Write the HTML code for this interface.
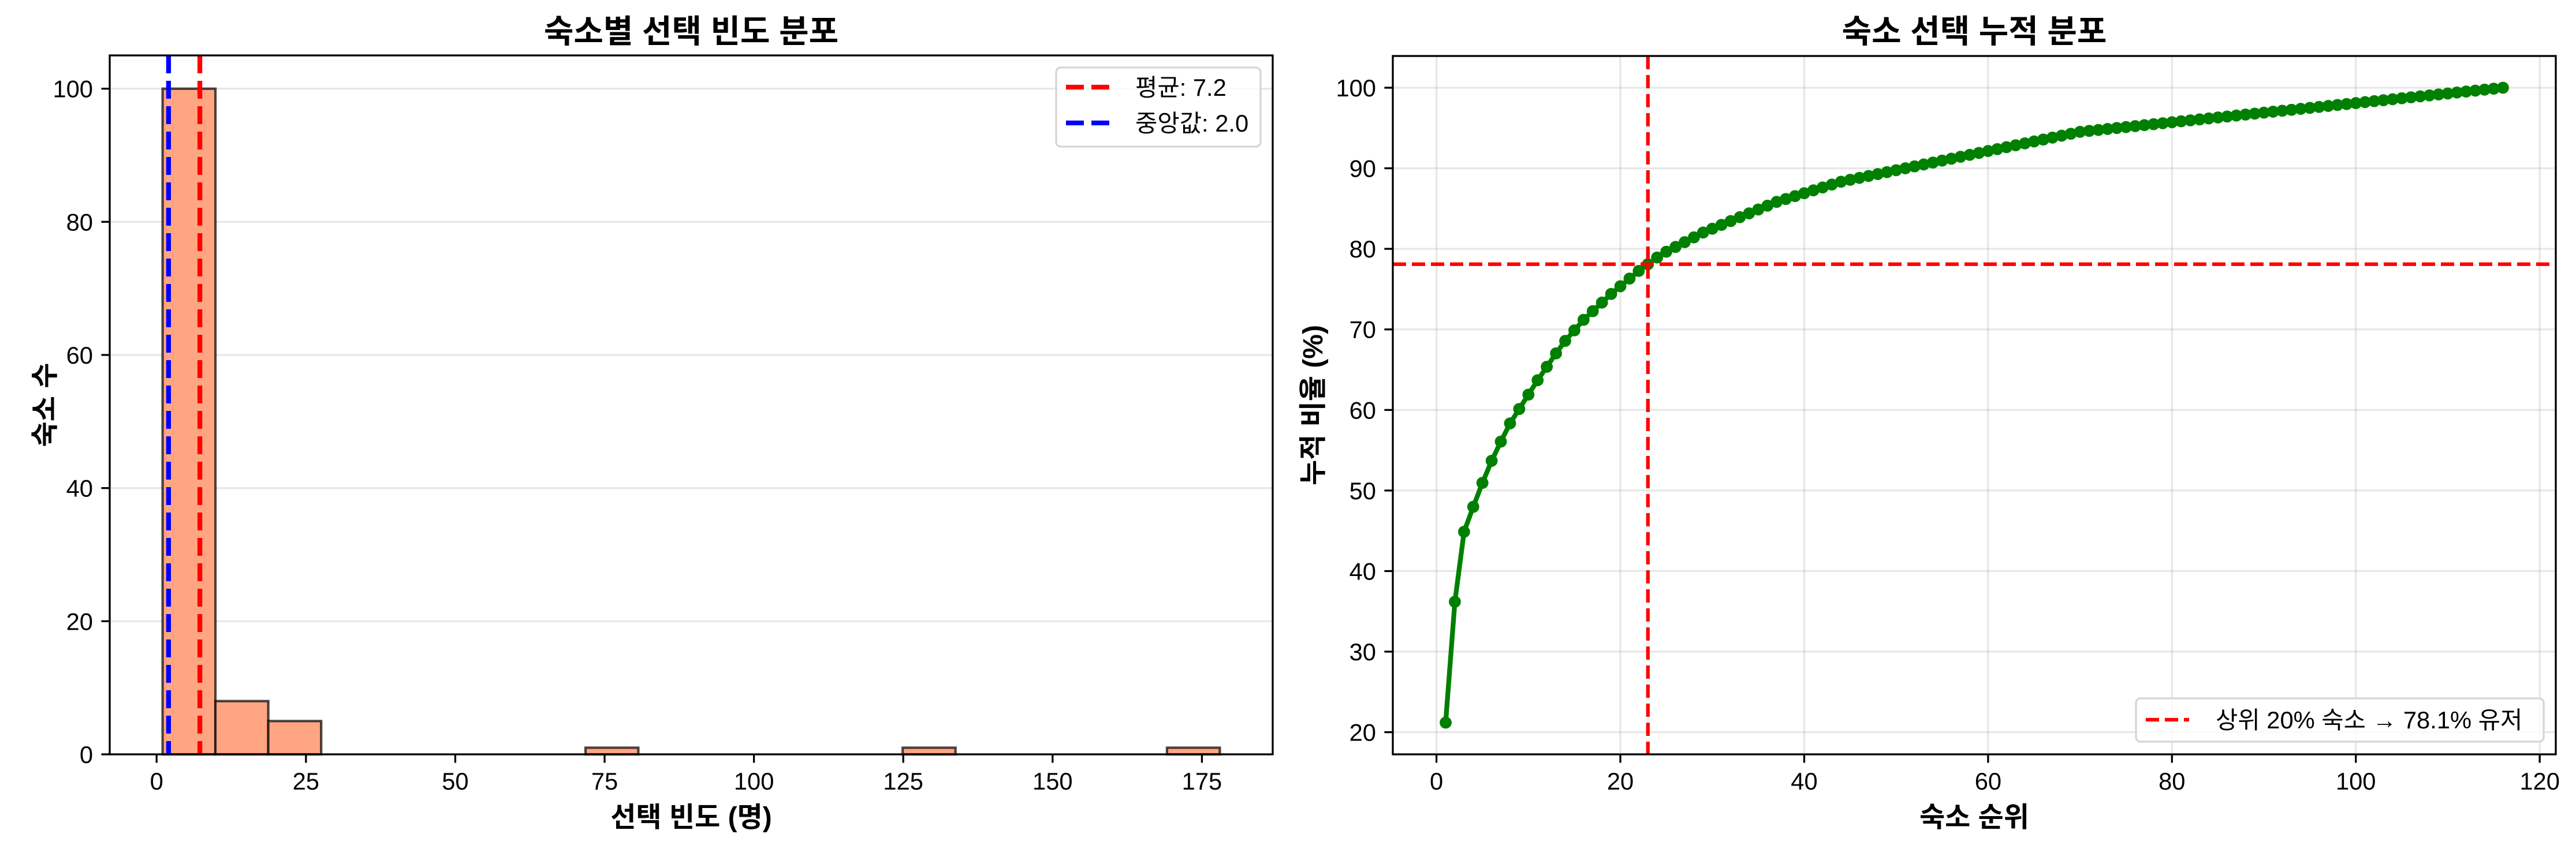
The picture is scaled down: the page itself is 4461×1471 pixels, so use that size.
<!DOCTYPE html>
<html><head><meta charset="utf-8">
<style>
html,body{margin:0;padding:0;background:#fff;}
svg{display:block;}
text{font-family:"Liberation Sans","Noto Sans CJK KR",sans-serif;fill:#000;}
</style></head>
<body>
<svg id="fig" xmlns="http://www.w3.org/2000/svg" width="4461" height="1471" viewBox="0 0 4461 1471">
<rect x="0" y="0" width="4461" height="1471" fill="#fff"/>
<g id="left"></g>
<g id="right"></g>
</svg>
<script>
// selections per accommodation, sorted descending (116 accommodations)
const counts = [178,126,73,26,25,23,20,19,15,15,15,14,14,13,11,11,
 9,9,9,8,8,8,7,7,6,
 5,5,5,5,4,4,4,4,4,4,4,4,3,3,3,
 3,3,3,3,2,2,2,2,2,2,
 2,2,2,2,2,2,2,2,2,2,
 2,2,2,2,2,2,2,2,2,2,
 1,1,1,1,1,1,1,1,1,1,1,1,1,1,1,1,1,1,1,1,1,1,1,1,1,1,1,1,1,1,1,1,1,1,1,1,1,1,1,1,1,1,1,1,1,1];
const histXTicks = [0,25,50,75,100,125,150,175];
const histYTicks = [0,20,40,60,80,100];
const cumXTicks = [0,20,40,60,80,100,120];
const cumYTicks = [20,30,40,50,60,70,80,90,100];
const nBins = 20;
const topShare = 0.2;

const NS = "http://www.w3.org/2000/svg";
function mk(tag, attrs, parent){const e=document.createElementNS(NS,tag);for(const k in attrs)e.setAttribute(k,attrs[k]);parent.appendChild(e);return e;}
function txt(s, attrs, parent){const e=mk('text',attrs,parent);e.textContent=s;return e;}

const total = counts.reduce((a,b)=>a+b,0);
const mean = total/counts.length;
const sortedAsc = counts.slice().sort((a,b)=>a-b);
const n = sortedAsc.length;
const median = n%2 ? sortedAsc[(n-1)/2] : (sortedAsc[n/2-1]+sortedAsc[n/2])/2;

/* ---------- LEFT: histogram ---------- */
const L = document.getElementById('left');
const lx0=190, lx1=2204, ly0=96, ly1=1307;
const cmin=Math.min(...counts), cmax=Math.max(...counts);
const bw=(cmax-cmin)/nBins;
const bins=new Array(nBins).fill(0);
counts.forEach(c=>{let i=Math.floor((c-cmin)/bw);if(i>=nBins)i=nBins-1;bins[i]++;});
const hxMin=cmin-0.05*(cmax-cmin), hxMax=cmax+0.05*(cmax-cmin);
const hyMax=Math.max(...bins)*1.05;
const hx=v=>lx0+(v-hxMin)/(hxMax-hxMin)*(lx1-lx0);
const hy=v=>ly1-(v/hyMax)*(ly1-ly0);

histYTicks.forEach(t=>{
  const g=mk('line',{x1:lx0,x2:lx1,y1:hy(t),y2:hy(t),stroke:'#b0b0b0','stroke-opacity':0.3,'stroke-width':3.3},L);
  
  
});
bins.forEach((b,i)=>{
  if(b<=0) return;
  const x=hx(cmin+i*bw), x2=hx(cmin+(i+1)*bw);
  const r=mk('rect',{x:x,y:hy(b),width:x2-x,height:hy(0)-hy(b),fill:'#FFA582',stroke:'#000','stroke-opacity':0.7,'stroke-width':4.2},L);
  
  
});
const meanLine=mk('line',{x1:hx(mean),x2:hx(mean),y1:ly0,y2:ly1,stroke:'#ff0000','stroke-width':8.3,'stroke-dasharray':'31,13'},L);


const medLine=mk('line',{x1:hx(median),x2:hx(median),y1:ly0,y2:ly1,stroke:'#0000ff','stroke-width':8.3,'stroke-dasharray':'31,13'},L);



const lframe=mk('rect',{x:lx0,y:ly0,width:lx1-lx0,height:ly1-ly0,fill:'none',stroke:'#000','stroke-width':3.3},L);


histXTicks.forEach(t=>{
  mk('line',{x1:hx(t),x2:hx(t),y1:ly1,y2:ly1+14.6,stroke:'#000','stroke-width':3.3},L);
  const e=txt(String(t),{x:hx(t),y:1368,'font-size':41.7,'text-anchor':'middle'},L);
  
  
});
histYTicks.forEach(t=>{
  mk('line',{x1:lx0-14.6,x2:lx0,y1:hy(t),y2:hy(t),stroke:'#000','stroke-width':3.3},L);
  const e=txt(String(t),{x:lx0-29,y:hy(t)+15,'font-size':41.7,'text-anchor':'end'},L);
  
  
});
let e;
e=txt('숙소별 선택 빈도 분포',{x:(lx0+lx1)/2,y:74,'font-size':56,'font-weight':'bold','text-anchor':'middle'},L);


e=txt('선택 빈도 (명)',{x:(lx0+lx1)/2,y:1432,'font-size':48,'font-weight':'bold','text-anchor':'middle'},L);


e=txt('숙소 수',{x:0,y:0,'font-size':48,'font-weight':'bold','text-anchor':'middle',transform:'translate(94,'+((ly0+ly1)/2)+') rotate(-90)'},L);



const lleg=mk('g',{},L);


mk('rect',{x:1829,y:117,width:354,height:137,rx:8,fill:'#fff','fill-opacity':0.8,stroke:'#d5d5d5','stroke-width':3.3},lleg);
mk('line',{x1:1846,x2:1921,y1:151,y2:151,stroke:'#ff0000','stroke-width':8.3,'stroke-dasharray':'31,13'},lleg);
mk('line',{x1:1846,x2:1921,y1:213,y2:213,stroke:'#0000ff','stroke-width':8.3,'stroke-dasharray':'31,13'},lleg);
e=txt('평균: '+mean.toFixed(1),{x:1966,y:166,'font-size':41.7},lleg);


e=txt('중앙값: '+median.toFixed(1),{x:1966,y:228,'font-size':41.7},lleg);



/* ---------- RIGHT: cumulative ---------- */
const R = document.getElementById('right');
const rx0=2412, rx1=4426, ry0=97, ry1=1307;
const cum=[]; let acc=0;
counts.forEach(c=>{acc+=c;cum.push(acc/total*100);});
const ranks=counts.map((_,i)=>i+1);
const cyMinD=Math.min(...cum), cyMaxD=Math.max(...cum);
const cxMin=1-0.05*(n-1), cxMax=n+0.05*(n-1);
const cyMin=cyMinD-0.05*(cyMaxD-cyMinD), cyMax=cyMaxD+0.05*(cyMaxD-cyMinD);
const cx=v=>rx0+(v-cxMin)/(cxMax-cxMin)*(rx1-rx0);
const cy=v=>ry1-(v-cyMin)/(cyMax-cyMin)*(ry1-ry0);

cumXTicks.forEach(t=>{
  const g=mk('line',{x1:cx(t),x2:cx(t),y1:ry0,y2:ry1,stroke:'#b0b0b0','stroke-opacity':0.3,'stroke-width':3.3},R);
  
  
});
cumYTicks.forEach(t=>{
  const g=mk('line',{x1:rx0,x2:rx1,y1:cy(t),y2:cy(t),stroke:'#b0b0b0','stroke-opacity':0.3,'stroke-width':3.3},R);
  
  
});
const pts=cum.map((v,i)=>cx(ranks[i]).toFixed(1)+','+cy(v).toFixed(1)).join(' ');
const pl=mk('polyline',{points:pts,fill:'none',stroke:'#008000','stroke-width':8.3,'stroke-linejoin':'round'},R);


cum.forEach((v,i)=>{
  const c=mk('circle',{cx:cx(ranks[i]),cy:cy(v),r:10.4,fill:'#008000'},R);
  
  
});
const topN=Math.floor(n*topShare);
const topPct=cum[topN-1];
const vl=mk('line',{x1:cx(topN),x2:cx(topN),y1:ry0,y2:ry1,stroke:'#ff0000','stroke-width':6.25,'stroke-dasharray':'23,10'},R);


const hl=mk('line',{x1:rx0,x2:rx1,y1:cy(topPct),y2:cy(topPct),stroke:'#ff0000','stroke-width':6.25,'stroke-dasharray':'23,10'},R);



const rframe=mk('rect',{x:rx0,y:ry0,width:rx1-rx0,height:ry1-ry0,fill:'none',stroke:'#000','stroke-width':3.3},R);


cumXTicks.forEach(t=>{
  mk('line',{x1:cx(t),x2:cx(t),y1:ry1,y2:ry1+14.6,stroke:'#000','stroke-width':3.3},R);
  const e=txt(String(t),{x:cx(t),y:1368,'font-size':41.7,'text-anchor':'middle'},R);
  
  
});
cumYTicks.forEach(t=>{
  mk('line',{x1:rx0-14.6,x2:rx0,y1:cy(t),y2:cy(t),stroke:'#000','stroke-width':3.3},R);
  const e=txt(String(t),{x:rx0-29,y:cy(t)+15,'font-size':41.7,'text-anchor':'end'},R);
  
  
});
e=txt('숙소 선택 누적 분포',{x:(rx0+rx1)/2,y:74,'font-size':56,'font-weight':'bold','text-anchor':'middle'},R);


e=txt('숙소 순위',{x:(rx0+rx1)/2,y:1432,'font-size':48,'font-weight':'bold','text-anchor':'middle'},R);


e=txt('누적 비율 (%)',{x:0,y:0,'font-size':48,'font-weight':'bold','text-anchor':'middle',transform:'translate(2290,'+((ry0+ry1)/2)+') rotate(-90)'},R);



const rleg=mk('g',{},R);


mk('rect',{x:3699,y:1210,width:706,height:75,rx:8,fill:'#fff','fill-opacity':0.8,stroke:'#d5d5d5','stroke-width':3.3},rleg);
mk('line',{x1:3716,x2:3791,y1:1247,y2:1247,stroke:'#ff0000','stroke-width':6.25,'stroke-dasharray':'23,10'},rleg);
e=txt('상위 '+Math.round(topShare*100)+'% 숙소 → '+topPct.toFixed(1)+'% 유저',{x:3837,y:1262,'font-size':41.7},rleg);


</script>
</body></html>
